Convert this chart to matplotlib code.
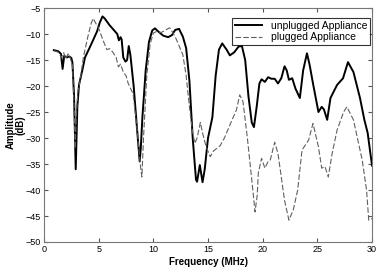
import numpy as np
import matplotlib.pyplot as plt

plt.rcParams['font.family'] = ['Liberation Sans', 'DejaVu Sans']

# unplugged Appliance (solid)
f_unplugged = [0.9, 1.3, 1.55, 1.7, 1.85, 2.1, 2.3, 2.5, 2.6, 2.75, 2.9, 3.05, 3.2, 3.5,
               3.75, 4.2, 4.85, 5.1, 5.35, 5.55, 6.0, 6.5, 6.7, 6.85, 7.0, 7.1, 7.25, 7.45,
               7.6, 7.75, 7.9, 8.2, 8.5, 8.75, 8.85, 9.0, 9.3, 9.6, 9.9, 10.15, 10.5, 10.9,
               11.35, 11.7, 12.0, 12.35, 12.7, 13.0, 13.3, 13.6, 13.9, 14.0, 14.25, 14.5,
               14.7, 15.0, 15.4, 15.7, 16.0, 16.3, 16.7, 17.0, 17.4, 17.8, 18.1, 18.4, 18.7,
               19.0, 19.2, 19.45, 19.7, 19.9, 20.2, 20.5, 20.8, 21.1, 21.4, 21.7, 22.0, 22.2,
               22.4, 22.7, 23.0, 23.4, 23.7, 24.05, 24.3, 24.6, 25.1, 25.4, 25.6, 25.9, 26.2,
               26.8, 27.35, 27.8, 28.3, 28.9, 29.3, 29.6, 30.0]
a_unplugged = [-13.1, -13.3, -13.8, -16.7, -14.2, -14.5, -14.3, -14.6, -15.5, -22, -36, -24, -19.8, -17,
               -14.5, -12.5, -9.5, -7.8, -6.6, -7.0, -8.3, -9.5, -10, -11.2, -10.6, -11, -14.5, -15.3,
               -15, -12.3, -14, -20, -28, -34.5, -32, -26, -17, -11.5, -9.3, -8.9, -9.6, -10.3,
               -10.6, -10.2, -9.2, -9.0, -10.5, -12.7, -19, -30, -38, -38.4, -35.2, -38.5,
               -36, -30, -26, -18, -13, -11.8, -13, -14.1, -13.5, -12.4, -12.3, -15, -22,
               -27, -27.9, -24, -19.5, -18.7, -19.2, -18.3, -18.6, -18.6, -19.5, -18.5, -16.2, -17,
               -18.8, -18.5, -20.5, -22.3, -17, -13.7, -16, -19.5, -25, -24, -24.5, -26.5, -22.3,
               -19.8, -18.5, -15.4, -17.3, -22.3, -26.5, -29, -35.3]

# plugged Appliance (dashed)
f_plugged = [0.9, 1.3, 1.6, 1.8, 2.0, 2.2, 2.4, 2.6, 2.75, 2.85, 2.95, 3.1, 3.3, 3.6, 4.0,
             4.3, 4.5, 4.7, 5.0, 5.4, 5.75, 6.0, 6.3, 6.6, 6.8, 7.0, 7.25, 7.5, 7.7, 8.15,
             8.5, 8.8, 8.95, 9.1, 9.4, 9.7, 10.0, 10.3, 10.7, 11.0, 11.3, 11.5, 11.8, 12.1,
             12.4, 12.7, 13.0, 13.3, 13.6, 13.8, 14.0, 14.3, 14.5, 14.8, 15.2, 15.5, 16.1,
             16.5, 16.8, 17.2, 17.6, 17.9, 18.2, 18.6, 19.0, 19.3, 19.5, 19.6, 19.9, 20.2,
             20.5, 20.7, 21.1, 21.4, 21.8, 22.0, 22.4, 22.8, 23.2, 23.6, 24.2, 24.6, 25.1,
             25.4, 25.7, 26.0, 26.35, 26.8, 27.4, 27.7, 28.3, 29.1, 29.5, 29.7, 30.0]
a_plugged = [-13.2, -13.5, -14.5, -13.6, -14.8, -13.8, -14.6, -16, -24, -32, -26, -21, -19, -14.5, -10.6,
             -8, -7.0, -7.8, -8.9, -11.2, -13, -12.8, -13.5, -14.5, -16.3, -15.8, -17.3, -18, -19.5, -21.5,
             -28, -35, -37.5, -30, -18, -12, -9.8, -9.5, -9.7, -9.4, -9.0, -8.8, -9.8, -11,
             -12.5, -14, -18, -24, -29, -31, -30, -27, -29, -31.5, -33.6, -32.5, -31.5,
             -30, -28.5, -26.5, -24.6, -21.7, -23, -30, -38, -44.2, -41, -36.7, -33.9, -35.8,
             -34.5, -34.2, -30.8, -33, -39, -42, -45.8, -43.8, -40, -32.3, -30.4, -27.2, -31.7,
             -35.8, -35.5, -37.5, -33, -28.5, -25, -24, -26.5, -34.2, -40, -45.8, -45.5]

fig = plt.figure(figsize=(3.8, 2.69), dpi=100)
ax = fig.add_axes([0.1158, 0.1004, 0.8632, 0.8696])

ax.plot(f_unplugged, a_unplugged, color='black', lw=1.4, label='unplugged Appliance')
ax.plot(f_plugged, a_plugged, color='#606060', lw=0.8, dashes=(5, 2), label='plugged Appliance')

ax.set_xlim(0, 30)
ax.set_ylim(-50, -5)
ax.set_xticks([0, 5, 10, 15, 20, 25, 30])
ax.set_yticks(np.arange(-50, -4, 5))
ax.tick_params(direction='in', length=3, labelsize=6.5, top=True, right=True,
               color='#555555', pad=2)
for s in ax.spines.values():
    s.set_color('#777777')
    s.set_linewidth(0.8)

ax.set_xlabel('Frequency (MHz)', fontsize=7, fontweight='bold', labelpad=2)
ax.set_ylabel('Amplitude\n(dB)', fontsize=7, fontweight='bold', labelpad=0, linespacing=1.0)

leg = ax.legend(loc='upper right', fontsize=7.5, frameon=True, fancybox=False,
                edgecolor='black', handlelength=2.6, handletextpad=0.9, borderpad=0.25,
                labelspacing=0.15, borderaxespad=0, bbox_to_anchor=(0.995, 0.957))
leg.get_frame().set_linewidth(0.8)

fig.savefig('out.png', dpi=100)
